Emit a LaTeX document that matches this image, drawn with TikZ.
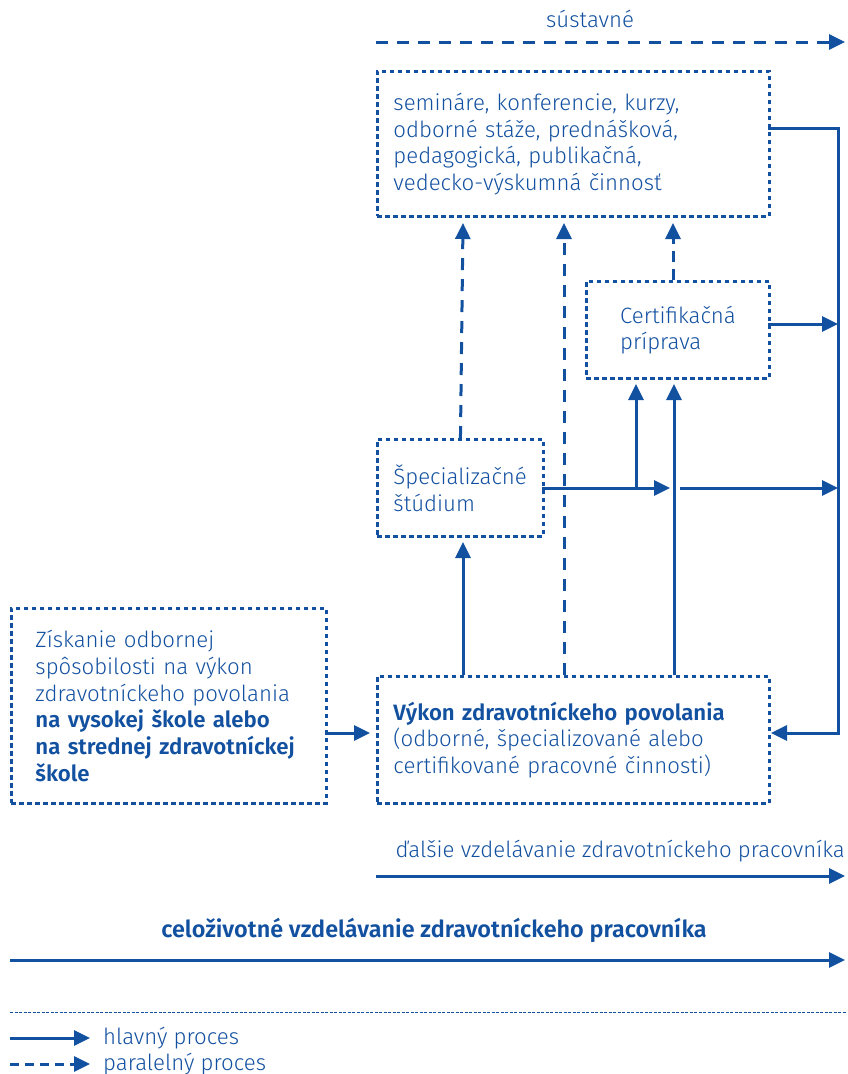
\documentclass[tikz,border=0pt]{standalone}
\usepackage{fontspec}
\setmainfont{Fira Sans Light}[BoldFont={Fira Sans SemiBold}]
\usetikzlibrary{arrows.meta}
\definecolor{bl}{RGB}{18,80,160}
\begin{document}
\begin{tikzpicture}[x=1pt,y=-1pt,
  every node/.style={text=bl, font=\fontsize{22.2}{26.7}\selectfont},
  box/.style={draw=bl, line width=2.9pt, dash pattern=on 4.5pt off 3.5pt, anchor=north west, inner xsep=16pt, inner ysep=0pt, align=left},
  main/.style={draw=bl, line width=3pt, -{Triangle[length=16pt,width=15pt]}},
  par/.style={main, dash pattern=on 12pt off 9pt},
  lbl/.style={inner sep=0pt}]
\useasboundingbox (0,0) rectangle (847,1074);

% boxes
\node[box, minimum width=392pt, minimum height=145pt, text width=360pt] (top) at (376,70)
  {semináre, konferencie, kurzy,\\odborné stáže, prednášková,\\pedagogická, publikačná,\\vedecko-výskumná činnosť};
\node[box, minimum width=183pt, minimum height=97pt] (cert) at (585,280)
  {Certifikačná\\príprava};
\node[box, minimum width=166pt, minimum height=97pt, text width=134pt] (spec) at (376,438)
  {Špecializačné\\štúdium};
\node[box, minimum width=392pt, minimum height=127pt, text width=360pt] (vykon) at (376,675)
  {\textbf{Výkon zdravotníckeho povolania}\\(odborné, špecializované alebo\\certifikované pracovné činnosti)};
\node[box, minimum width=315pt, minimum height=195pt, inner xsep=24pt, text width=267pt] (left) at (10,607)
  {Získanie odbornej\\spôsobilosti na výkon\\zdravotníckeho povolania\\\textbf{na vysokej škole alebo}\\\textbf{na strednej zdravotníckej}\\\textbf{škole}};

% sustavne
\node[lbl, anchor=base] (sust) at (590,27) {sústavné};
\coordinate (s1) at (376,42);
\coordinate (s2) at (845,42);
\draw[par] (s1) -- (s2);

% right return line
\coordinate (r1) at (768,128);
\coordinate (r2) at (838,128);
\coordinate (r3) at (838,733);
\coordinate (r4) at (771,733);
\draw[main] (r1) -- (r2) -- (r3) -- (r4);

% cert -> right
\coordinate (c1) at (768,324);
\coordinate (c2) at (838,324);
\draw[main] (c1) -- (c2);

% dashed arrows to top
\coordinate (t1) at (463,223);
\coordinate (t2) at (564,223);
\coordinate (t3) at (673,223);
\draw[par] (spec.north) -- (t1);
\draw[par] (vykon.north -| t2) -- (t2);
\draw[par, dash pattern=on 11pt off 7pt] (cert.north -| t3) -- (t3);

% vykon -> spec
\coordinate (v1) at (463,675);
\coordinate (v2) at (463,542);
\draw[main] (v1) -- (v2);

% spec -> right
\coordinate (h1) at (542,488);
\coordinate (h2) at (670,488);
\coordinate (h3) at (680,488);
\coordinate (h4) at (838,488);
\draw[main] (h1) -- (h2);
\draw[main] (h3) -- (h4);

% up to cert
\coordinate (u1) at (636,488);
\coordinate (u2) at (636,384);
\draw[main] (u1) -- (u2);
\coordinate (w1) at (674,675);
\coordinate (w2) at (674,384);
\draw[main] (w1) -- (w2);

% left -> vykon
\coordinate (l1) at (325,733);
\coordinate (l2) at (370,733);
\draw[main] (l1) -- (l2);

% bottom arrows
\node[lbl, anchor=base east] (dalsie) at (845,857) {ďalšie vzdelávanie zdravotníckeho pracovníka};
\coordinate (d1) at (376,876);
\coordinate (d2) at (845,876);
\draw[main] (d1) -- (d2);

\node[lbl, anchor=base, font=\fontsize{23.4}{28}\selectfont] (celo) at (434,937) {\textbf{celoživotné vzdelávanie zdravotníckeho pracovníka}};
\coordinate (e1) at (10,960);
\coordinate (e2) at (845,960);
\draw[main] (e1) -- (e2);

% separator
\coordinate (sp1) at (10,1012);
\coordinate (sp2) at (847,1012);
\draw[bl, line width=0.9pt, dash pattern=on 3pt off 1.5pt] (sp1) -- (sp2);

% legend
\coordinate (g1) at (10,1038);
\coordinate (g2) at (90,1038);
\draw[main] (g1) -- (g2);
\node[lbl, anchor=base west] (hl) at (103,1044) {hlavný proces};
\coordinate (g3) at (10,1064);
\coordinate (g4) at (90,1064);
\draw[main, dash pattern=on 9pt off 6pt] (g3) -- (g4);
\node[lbl, anchor=base west] (pa) at (103,1070) {paralelný proces};
\end{tikzpicture}
\end{document}
